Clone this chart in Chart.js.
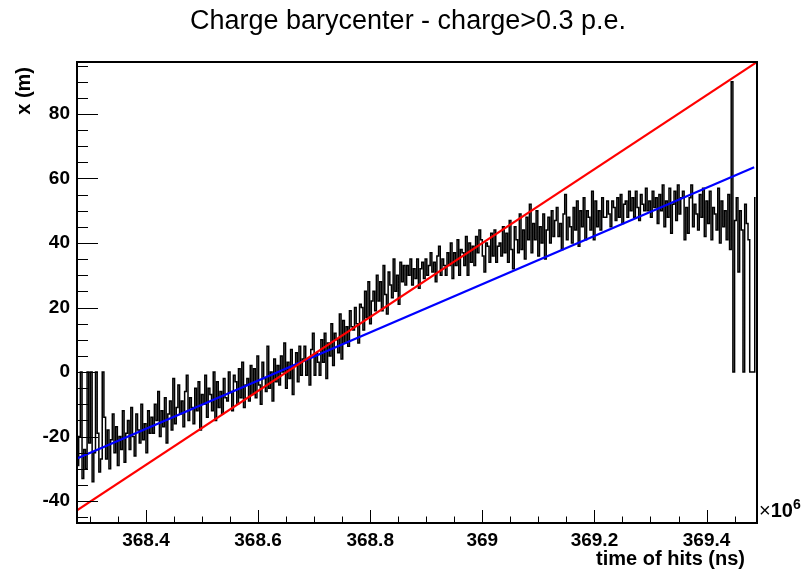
<!DOCTYPE html>
<html>
<head>
<meta charset="utf-8">
<script src="https://cdn.jsdelivr.net/npm/chart.js@4/dist/chart.umd.min.js"></script>
<style>html,body{margin:0;background:#fff}canvas{display:block}</style>
</head>
<body>
<canvas id="c" width="803" height="572"></canvas>
<script>
// barycenter x per time bin (m); bins of 0.003e6 ns starting at 368.277e6 ns
const binStart = 368.277, binWidth = 0.003;
const hitX = [
-29,-20,0,-33,-24,-30,0,-22,0,-34,-25,0,-19,-31,-27,
0,-14,-27,-18,-30,-21,-13,-25,-17,-29,-20,-24,-12,-28,-19,
-15,-24,-11,-20,-26,-13,-18,-22,-10,-21,-16,-25,-12,-19,-14,
-19,-10,-15,-6,-20,-12,-17,-8,-22,-13,-9,-18,-2,-16,-11,
-4,-13,-9,-17,-6,-1,-15,-8,-11,-16,-5,-12,-3,-18,-7,
-10,-1,-14,-5,-7,-12,0,-15,-3,-11,-6,-13,-2,-8,-9,
0,-6,-12,-1,-3,-10,1,-8,3,-11,-4,-2,-9,2,-7,
1,-8,5,-4,-10,3,-2,-6,8,-5,0,-9,4,-3,2,
-4,5,0,9,-5,3,-2,7,-7,2,6,-3,8,-1,4,
8,-1,4,-4,7,12,-1,6,3,-1,10,3,12,-2,9,
5,15,2,12,10,6,18,4,16,9,14,8,19,14,13,
20,15,9,21,20,13,25,17,28,15,22,25,19,30,22,
28,19,33,24,18,31,27,23,35,25,30,21,34,28,33,
27,33,30,35,27,32,29,35,26,32,34,29,35,30,33,
37,31,34,28,36,39,30,35,33,30,37,33,40,29,37,
33,41,30,38,37,33,42,30,40,34,39,33,42,37,44,
41,36,31,40,39,34,43,36,44,34,39,40,36,45,37,
43,34,47,38,32,45,41,37,49,38,44,35,48,41,52,
37,46,41,50,36,45,40,49,35,44,48,40,50,42,47,
51,42,46,38,49,55,41,48,45,40,51,44,53,39,50,
45,54,41,50,48,44,56,41,53,45,50,44,54,48,48,
53,49,45,53,51,47,54,48,55,46,52,53,48,56,50,
54,48,56,51,47,55,52,50,57,50,53,48,56,51,54,
46,55,50,58,45,53,48,57,43,52,56,47,58,49,54,
56,41,51,43,54,58,45,52,49,44,55,48,57,42,53,
46,56,41,51,49,44,57,40,53,45,50,41,55,38,90,
0,47,54,31,50,44,0,52,46,41,0,0,0,54
];

// two straight fits
const redX = [368.277, 369.49], redY = [-42.9, 96.1];
const blueX = [368.277, 369.485], blueY = [-26.8, 63.5];

const xTickValues = [368.4, 368.6, 368.8, 369, 369.2, 369.4];
const xTickLabels = ['368.4', '368.6', '368.8', '369', '369.2', '369.4'];
const yTickValues = [-40, -20, 0, 20, 40, 60, 80];
const yTickLabels = ['-40', '-20', '0', '20', '40', '60', '80'];

const FONT = "'Liberation Sans', Arial, Helvetica, sans-serif";

const traceData = hitX.map((v, i) => ({x: binStart + binWidth * (i + 0.5), y: v}));
const redData = redX.map((x, i) => ({x, y: redY[i]}));
const blueData = blueX.map((x, i) => ({x, y: blueY[i]}));

// ROOT-like pad: box around the frame, inward ticks, titles
const rootFrame = {
  id: 'rootFrame',
  afterDatasetsDraw(chart) {
    const {ctx, chartArea: a, scales: {x, y}} = chart;
    ctx.save();
    ctx.strokeStyle = '#000';
    ctx.lineWidth = 1;
    ctx.beginPath();
    for (let k = Math.ceil(x.min / 0.05); k * 0.05 <= x.max; k++) {
      const px = Math.round(x.getPixelForValue(k * 0.05)) + 0.5;
      ctx.moveTo(px, a.bottom);
      ctx.lineTo(px, a.bottom - (k % 4 === 0 ? 13 : 6.5));
    }
    for (let k = Math.ceil(y.min / 5); k * 5 <= y.max; k++) {
      const py = Math.round(y.getPixelForValue(k * 5)) + 0.5;
      ctx.moveTo(a.left, py);
      ctx.lineTo(a.left + (k % 4 === 0 ? 21 : 11), py);
    }
    ctx.stroke();
    ctx.lineWidth = 2;
    ctx.strokeRect(a.left, a.top, a.right - a.left, a.bottom - a.top);
    ctx.restore();
  },
  afterDraw(chart) {
    const {ctx, chartArea: a} = chart;
    ctx.save();
    ctx.fillStyle = '#000';

    ctx.font = '27px ' + FONT;
    ctx.textAlign = 'center';
    ctx.textBaseline = 'middle';
    ctx.fillText('Charge barycenter - charge>0.3 p.e.', 408, 22);

    ctx.textBaseline = 'alphabetic';
    ctx.textAlign = 'right';
    ctx.font = 'bold 20px ' + FONT;
    ctx.fillText('time of hits (ns)', a.right - 12, 565);

    ctx.save();
    ctx.translate(24, a.top + 5);
    ctx.rotate(-Math.PI / 2);
    ctx.textBaseline = 'middle';
    ctx.fillText('x (m)', 0, 0);
    ctx.restore();

    // axis multiplier
    ctx.textAlign = 'left';
    ctx.font = '20px ' + FONT;
    ctx.fillText('\u00d7', a.right + 2, 517);
    const w1 = ctx.measureText('\u00d7').width;
    ctx.font = 'bold 20px ' + FONT;
    ctx.fillText('10', a.right + 2 + w1, 517);
    const w2 = ctx.measureText('10').width;
    ctx.font = 'bold 14px ' + FONT;
    ctx.fillText('6', a.right + 2 + w1 + w2, 509);
    ctx.restore();
  }
};

new Chart(document.getElementById('c'), {
  type: 'line',
  data: {
    datasets: [
      {label: 'hits', data: traceData, borderColor: '#000', borderWidth: 1.5, stepped: 'middle', pointRadius: 0, order: 2},
      {label: 'fit red', data: redData, borderColor: '#ff0000', borderWidth: 2.2, pointRadius: 0, order: 1},
      {label: 'fit blue', data: blueData, borderColor: '#0000ff', borderWidth: 2.2, pointRadius: 0, order: 1}
    ]
  },
  options: {
    responsive: false,
    animation: false,
    layout: {padding: {left: 0, right: 46, top: 62, bottom: 0}},
    plugins: {
      legend: {display: false},
      tooltip: {enabled: false}
    },
    scales: {
      x: {
        type: 'linear',
        min: 368.277,
        max: 369.49,
        grid: {display: false, drawTicks: false},
        border: {display: false},
        afterBuildTicks: s => { s.ticks = xTickValues.map(v => ({value: v})); },
        afterFit: s => { s.height = 49; },
        ticks: {
          color: '#000',
          font: {family: FONT, size: 19, weight: 'bold'},
          padding: 6,
          autoSkip: false,
          maxRotation: 0,
          callback: (v, i) => xTickLabels[i]
        }
      },
      y: {
        type: 'linear',
        min: -46.8,
        max: 96.1,
        grid: {display: false, drawTicks: false},
        border: {display: false},
        afterBuildTicks: s => { s.ticks = yTickValues.map(v => ({value: v})); },
        afterFit: s => { s.width = 77; },
        ticks: {
          color: '#000',
          font: {family: FONT, size: 19, weight: 'bold'},
          padding: 7,
          autoSkip: false,
          callback: (v, i) => yTickLabels[i]
        }
      }
    }
  },
  plugins: [rootFrame]
});
</script>
</body>
</html>
